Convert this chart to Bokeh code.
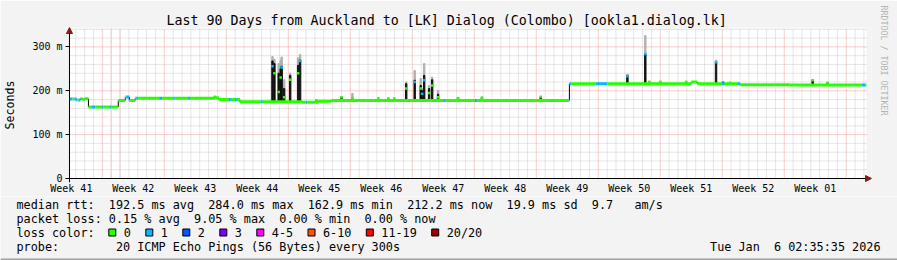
import numpy as np
from bokeh.plotting import figure
from bokeh.layouts import column
from bokeh.models import Range1d, FixedTicker, Title, Arrow, NormalHead
from bokeh.core.properties import value
from bokeh.embed import file_html
from bokeh.resources import INLINE

# ---------------- data ----------------
week_labels = ["Week 41", "Week 42", "Week 43", "Week 44", "Week 45", "Week 46", "Week 47",
               "Week 48", "Week 49", "Week 50", "Week 51", "Week 52", "Week 01"]
week_label_days = [0.21, 7.21, 14.21, 21.21, 28.21, 35.21, 42.21, 49.21, 56.21, 63.21, 70.21, 77.21, 84.21]
week_start_days = [3.71, 10.71, 17.71, 24.71, 31.71, 38.71, 45.71, 52.71, 59.71, 66.71, 73.71, 80.71, 87.71]
day_line_days = [0.71 + k for k in range(90)]

y_ticks = [0, 100, 200, 300]
y_tick_labels = ["0", "100 m", "200 m", "300 m"]
y_minor = [20, 40, 60, 80, 120, 140, 160, 180, 220, 240, 260, 280, 320, 340]

# median rtt (ms) as steps: start day, value
step_start_days = [0.00, 0.79, 1.24, 1.46, 1.69, 2.14, 5.51, 6.30, 6.75, 7.42, 16.42, 16.87,
                   19.24, 26.21, 28.12, 29.59, 56.45, 70.20, 70.90, 75.71, 81.34]
step_ms = [181, 179, 182, 180, 182, 163, 178, 186, 178, 183, 184, 180,
           175, 174, 176, 178, 216, 220, 216, 214, 213]

# short excursions: day, median, dense smoke top, sparse smoke top, lost pings at median
spike_days = [22.92, 23.14, 23.62, 23.85, 23.96, 24.24, 24.92, 25.82, 26.04,
              38.02, 38.98, 39.66, 39.82, 40.05, 40.61, 40.95, 41.62,
              63.00, 65.02, 73.01,
              16.42, 27.90, 30.71, 31.95, 34.87, 36.00, 36.67, 43.87, 46.57, 53.21,
              65.47, 66.71, 69.64, 73.80, 74.60, 83.92, 85.61]
spike_median_ms = [256, 240, 197, 230, 253, 185, 225, 240, 268,
                   205, 220, 205, 193, 224, 195, 212, 185,
                   233, 284, 265,
                   186, 178, 185, 182, 182, 182, 182, 183, 184, 186,
                   220, 220, 220, 219, 218, 224, 218]
spike_smoke_ms = [268, 262, 240, 250, 256, 205, 235, 258, 270,
                  216, 224, 212, 200, 235, 205, 225, 192,
                  235, 284, 266,
                  186, 178, 185, 182, 182, 182, 182, 183, 184, 186,
                  220, 220, 220, 219, 218, 224, 218]
spike_smoke_max_ms = [278, 272, 262, 270, 277, 225, 240, 275, 283,
                      220, 246, 228, 205, 262, 212, 231, 201,
                      238, 326, 270,
                      188, 180, 187, 194, 184, 184, 184, 185, 186, 188,
                      222, 222, 222, 221, 220, 226, 220]
spike_loss = [1, 0, 0, 0, 1, 0, 0, 0, 1,
              0, 1, 0, 1, 1, 0, 0, 0,
              1, 1, 1,
              0, 0, 0, 0, 0, 0, 0, 0, 0, 0,
              0, 0, 0, 1, 0, 0, 0]

# periods where the median had 1 of 20 pings lost
loss1_start = [0.00, 0.56, 1.01, 2.48, 3.60, 4.50, 6.41, 7.54, 10.13, 11.81, 13.39, 17.99, 18.68,
               21.60, 26.66, 42.19, 45.79, 56.36, 59.40, 73.69, 75.49, 89.44]
loss1_end = [0.34, 0.90, 1.24, 2.93, 3.83, 4.73, 6.86, 7.76, 10.46, 11.93, 13.61, 18.23, 18.90,
             21.83, 26.89, 42.41, 46.01, 56.70, 60.75, 73.91, 75.71, 89.89]

gap_days = [4.71, 5.71]

loss_labels = ["0", "1", "2", "3", "4-5", "6-10", "11-19", "20/20"]
loss_colors = ["#26ff00", "#00b8ff", "#0059ff", "#7e00ff", "#ff00ff", "#ff5500", "#ff0000", "#a00000"]

title = "Last 90 Days from Auckland to [LK] Dialog (Colombo) [ookla1.dialog.lk]"
line_rtt = "median rtt:  192.5 ms avg  284.0 ms max  162.9 ms min  212.2 ms now  19.9 ms sd  9.7   am/s"
line_loss = "packet loss: 0.15 % avg  9.05 % max  0.00 % min  0.00 % now"
line_probe = "probe:        20 ICMP Echo Pings (56 Bytes) every 300s"
stamp = "Tue Jan  6 02:35:35 2026"

# ---------------- layout ----------------
W, H = 897, 260
HA = 196                      # height of the chart part
PX0, PX1, PY0, PY1 = 67, 867, 28, 178   # pixel box of 0..90 days, 0..342 ms
DAYS, YMAX = 90.0, 342.0
FL, FR, FT, FB = 63, 872, 27, 182       # frame edges
MONO = "DejaVu Sans Mono"
BG = "#f3f3f3"
GREEN, BLUE = loss_colors[0], loss_colors[1]


def nb(s):
    return s.replace(" ", "\u00a0")


def dx(px):
    return (px - PX0) / (PX1 - PX0) * DAYS


def dy(py):
    return (PY1 - py) / (PY1 - PY0) * YMAX


p = figure(width=W, height=HA, output_backend="svg", toolbar_location=None,
           x_range=Range1d(dx(FL), dx(FR)), y_range=Range1d(dy(FB), dy(FT)),
           min_border_left=FL, min_border_right=W - FR, min_border_top=FT, min_border_bottom=HA - FB,
           background_fill_color=BG, border_fill_color=BG, outline_line_color=None)
p.frame_align = False
p.title = Title(text=title, text_font=MONO, text_font_size="13.3px", text_font_style="normal",
                align="left", offset=101, standoff=0, text_color="black")
p.add_layout(Title(text="RRDTOOL / TOBI OETIKER", text_font=MONO, text_font_size="8.3px",
                   text_font_style="normal", text_color="#b4b4b4", align="left", offset=-22,
                   standoff=14), "right")

p.xgrid.visible = False
p.ygrid.visible = False

# axes (labels only; axis lines drawn with arrows)
p.xaxis.ticker = FixedTicker(ticks=week_label_days)
p.xaxis.major_label_overrides = dict(zip(week_label_days, week_labels))
p.xaxis.major_tick_out = 0
p.xaxis.major_tick_in = 0
p.xaxis.minor_tick_line_color = None
p.xaxis.axis_line_color = None
p.xaxis.major_label_standoff = 0
p.xaxis.major_label_text_font = MONO
p.xaxis.major_label_text_font_size = "10px"
p.xaxis.major_label_text_color = "black"

p.yaxis.ticker = FixedTicker(ticks=y_ticks)
p.yaxis.major_label_overrides = dict(zip(y_ticks, y_tick_labels))
p.yaxis.axis_line_color = None
p.yaxis.major_tick_out = 0
p.yaxis.major_tick_in = 4
p.yaxis.major_tick_line_color = "black"
p.yaxis.minor_tick_line_color = None
p.yaxis.major_label_standoff = 3
p.yaxis.major_label_text_font = MONO
p.yaxis.major_label_text_font_size = "10px"
p.yaxis.major_label_text_color = "black"
p.yaxis.axis_label = "Seconds"
p.yaxis.axis_label_text_font = MONO
p.yaxis.axis_label_text_font_size = "11.6px"
p.yaxis.axis_label_text_font_style = "normal"
p.yaxis.axis_label_text_color = "black"
p.yaxis.axis_label_standoff = 12

# plot area and grid
p.quad(left=0, right=DAYS, bottom=0, top=YMAX, fill_color="white", line_color=None)
RED_GRID, GREY_GRID = "#f09a9a", "#cdcdcd"
minor_days = [d for d in day_line_days if all(abs(d - w) > 0.01 for w in week_start_days)]
p.segment(x0=minor_days, y0=0, x1=minor_days, y1=YMAX, line_color=GREY_GRID, line_dash="1 1", line_width=1)
p.segment(x0=0, y0=y_minor, x1=DAYS, y1=y_minor, line_color=GREY_GRID, line_dash="1 1", line_width=1)
p.segment(x0=gap_days, y0=0, x1=gap_days, y1=YMAX, line_color="#f0caca", line_width=1)
p.segment(x0=week_start_days, y0=0, x1=week_start_days, y1=YMAX, line_color=RED_GRID, line_dash="1 1", line_width=1)
p.segment(x0=0, y0=y_ticks[1:], x1=DAYS, y1=y_ticks[1:], line_color=RED_GRID, line_dash="1 1", line_width=1)

# ---------------- data marks ----------------
starts = np.array(step_start_days)


def base_at(d):
    i = int(np.searchsorted(starts, d, side="right")) - 1
    return step_ms[i]


def in_loss1(d):
    return any(a <= d < b for a, b in zip(loss1_start, loss1_end))


spike_base = [base_at(d) for d in spike_days]
p.vbar(x=spike_days, width=0.16, bottom=spike_smoke_ms, top=spike_smoke_max_ms, color="#b0b0b0")
p.vbar(x=spike_days, width=0.16, bottom=spike_base, top=spike_smoke_ms, color="#111111")

p.segment(x0=step_start_days[1:], y0=step_ms[:-1], x1=step_start_days[1:], y1=step_ms[1:],
          line_color="black", line_width=1)

cuts = sorted(set(step_start_days + [DAYS] + loss1_start + loss1_end))
hx0, hx1, hy, hc = [], [], [], []
for a, b in zip(cuts[:-1], cuts[1:]):
    if b <= a:
        continue
    m = 0.5 * (a + b)
    hx0.append(a)
    hx1.append(b)
    hy.append(base_at(m))
    hc.append(BLUE if in_loss1(m) else GREEN)
p.segment(x0=hx0, y0=hy, x1=hx1, y1=hy, line_color=hc, line_width=3)

p.scatter(x=spike_days, y=spike_median_ms, marker="square", size=2.5, line_width=0,
          fill_color=[loss_colors[l] for l in spike_loss])

# axis lines with arrow heads
ARROW = "#8b1a1a"
p.add_layout(Arrow(x_start=dx(63), y_start=0, x_end=dx(FR), y_end=0, line_color="black", line_width=1,
                   end=NormalHead(size=6, fill_color=ARROW, line_color=ARROW)))
p.add_layout(Arrow(x_start=0, y_start=dy(182), x_end=0, y_end=dy(FT), line_color="black", line_width=1,
                   end=NormalHead(size=6, fill_color=ARROW, line_color=ARROW)))

# ---------------- legend part (pixel coordinates) ----------------
q = figure(width=W, height=H - HA, output_backend="svg", toolbar_location=None,
           x_range=Range1d(0, W), y_range=Range1d(H, HA),
           min_border_left=0, min_border_right=0, min_border_top=0, min_border_bottom=0,
           background_fill_color=BG, border_fill_color=BG, outline_line_color=None,
           x_axis_type=None, y_axis_type=None)
q.frame_align = False
q.xgrid.visible = False
q.ygrid.visible = False

TXT = dict(text_font=value(MONO), text_font_size="11.8px", text_baseline="middle", text_color="black")
q.text(x=[16, 16, 16, 16], y=[204, 218, 232, 246],
       text=[nb(line_rtt), nb(line_loss), nb("loss color:"), nb(line_probe)], **TXT)
q.text(x=[880], y=[246], text=[nb(stamp)], text_align="right", **TXT)

CW = 7.1
box_x, text_x = [], []
bx = 108.3
for txt in loss_labels:
    box_x.append(bx + 3.5)
    text_x.append(bx + 15)
    bx += 15 + len(txt) * CW + 14.9
q.rect(x=box_x, y=232, width=7, height=7, fill_color=loss_colors, line_color="black", line_width=1)
q.text(x=text_x, y=[232] * len(text_x), text=loss_labels, **TXT)

# bottom edge of the frame
q.segment(x0=0, y0=259, x1=W, y1=259, line_color="#a0a0a0", line_width=2)

layout = column(p, q, spacing=0)
open("out.html", "w").write(file_html(layout, INLINE))
